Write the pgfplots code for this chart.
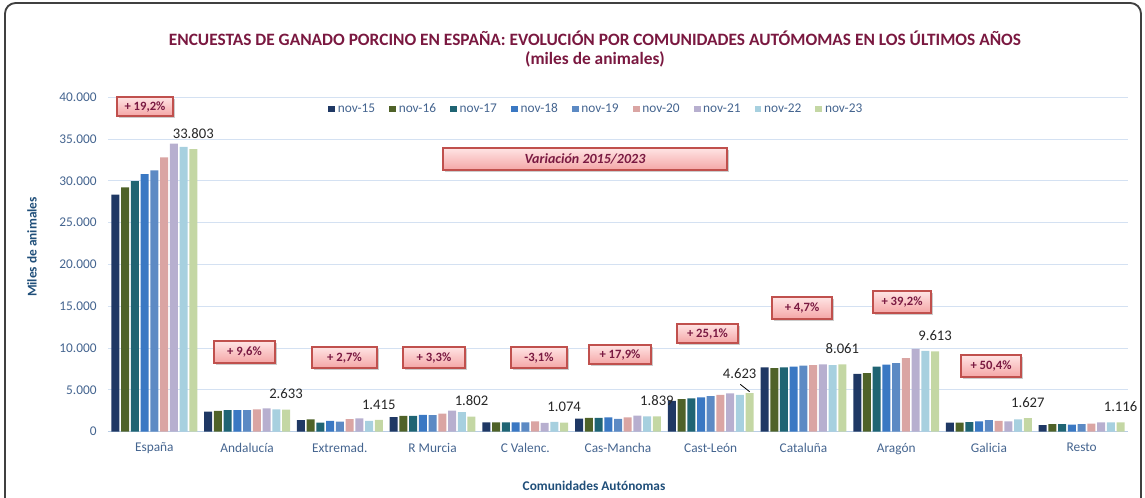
\documentclass[border=0pt]{standalone}
\usepackage{pgfplots}
\pgfplotsset{compat=1.18}
\usepackage{pgfplotstable}
\usepackage{fontspec}
\setmainfont{Carlito}
\usetikzlibrary{shadows}

\definecolor{c15}{HTML}{1F3864}
\definecolor{c16}{HTML}{4F6228}
\definecolor{c17}{HTML}{1F6473}
\definecolor{c18}{HTML}{3A78C3}
\definecolor{c19}{HTML}{5C8AC4}
\definecolor{c20}{HTML}{DAA5A3}
\definecolor{c21}{HTML}{B7AFCF}
\definecolor{c22}{HTML}{A7D0DF}
\definecolor{c23}{HTML}{C4D7A4}
\definecolor{titlecol}{RGB}{122,24,64}
\definecolor{axtitle}{HTML}{1F4E79}
\definecolor{tickcol}{HTML}{44648F}
\definecolor{gridcol}{HTML}{D4E1F2}
\definecolor{basecol}{HTML}{B9CDE5}
\definecolor{boxborder}{HTML}{C0504D}
\definecolor{boxtop}{HTML}{FFE4E4}
\definecolor{boxbot}{HTML}{F4A6A6}
\definecolor{boxtext}{HTML}{7A1A42}

\pgfplotstableread{
x n15 n16 n17 n18 n19 n20 n21 n22 n23 lx ly
0 28358 29230 29970 30800 31250 32800 34450 34070 33803 0 4.5
1 2402 2500 2580 2580 2580 2660 2780 2680 2633 0 4.5
2 1380 1460 1100 1300 1220 1500 1580 1300 1415 0 4.5
3 1744 1900 1900 2010 1980 2170 2530 2330 1802 0 4.5
4 1110 1110 1110 1110 1110 1230 1060 1190 1074 0 4.5
5 1560 1640 1640 1710 1530 1710 1910 1830 1839 0 4.5
6 3695 3900 3980 4100 4260 4420 4580 4420 4623 -7.5 7.5
7 7699 7610 7690 7770 7890 7970 8050 7970 8061 0 4.5
8 6906 7010 7770 8010 8210 8800 9920 9680 9613 0 4.5
9 1082 1080 1150 1230 1400 1300 1230 1480 1627 0 4.5
10 800 920 920 840 920 960 1110 1110 1116 0 4.5
}\datatable

\tikzset{pbox/.style={draw=boxborder, line width=0.8pt, top color=boxtop, bottom color=boxbot,
  drop shadow={shadow xshift=1.2pt, shadow yshift=-1.2pt, fill=black!40, opacity=0.5},
  text=boxtext, font=\fontsize{9.5}{11}\selectfont\bfseries, inner sep=0pt, anchor=center}}
\newcommand{\pbox}[5]{\node[pbox, minimum width=#3*0.75pt, minimum height=#4*0.75pt] at (#1,#2) {#5};}

\begin{document}
\begin{tikzpicture}
\useasboundingbox (-81pt,-48.975pt) rectangle (777.75pt,323.775pt);
\begin{scope}
\clip (-81pt,-48.975pt) rectangle (777.75pt,323.775pt);
\begin{axis}[
  at={(0,0)}, anchor=south west,
  scale only axis, width=765pt, height=250.8pt,
  ybar=1.3pt, bar width=6pt,
  xmin=-0.5, xmax=10.5, ymin=0, ymax=40000,
  xtick=data,
  xticklabels={España, Andalucía, Extremad., R Murcia, C Valenc., Cas-Mancha, Cast-León, Cataluña, Aragón, Galicia, Resto},
  ytick={0,5000,...,40000},
  scaled y ticks=false,
  /pgf/number format/1000 sep={.},
  /pgf/number format/assume math mode=true,
  major tick length=0pt,
  ymajorgrids, grid style={draw=gridcol, line width=0.75pt},
  axis x line*=bottom, axis y line*=left,
  x axis line style={draw=basecol, line width=1pt, -},
  y axis line style={draw=none},
  ticklabel style={font=\fontsize{10}{12}\selectfont, text=tickcol},
  xticklabel style={yshift=-5pt},
  yticklabel style={xshift=-5pt},
  legend columns=9,
  legend style={draw=none, fill=none, at={(0.2157,0.965)}, anchor=west, inner sep=0pt,
    font=\fontsize{10}{12}\selectfont, text=tickcol,
    /tikz/every even column/.append style={column sep=8.5pt}},
  legend image code/.code={\fill[#1] (0pt,-2.6pt) rectangle (5.2pt,2.6pt);},
  clip=false,
]
\addplot[fill=c15, draw=none] table[x=x,y=n15]{\datatable};
\addplot[fill=c16, draw=none] table[x=x,y=n16]{\datatable};
\addplot[fill=c17, draw=none] table[x=x,y=n17]{\datatable};
\addplot[fill=c18, draw=none] table[x=x,y=n18]{\datatable};
\addplot[fill=c19, draw=none] table[x=x,y=n19]{\datatable};
\addplot[fill=c20, draw=none] table[x=x,y=n20]{\datatable};
\addplot[fill=c21, draw=none] table[x=x,y=n21]{\datatable};
\addplot[fill=c22, draw=none] table[x=x,y=n22]{\datatable};
\addplot[fill=c23, draw=none, nodes near coords, point meta=y,
  visualization depends on={\thisrow{lx} \as \lx},
  visualization depends on={\thisrow{ly} \as \ly},
  every node near coord/.append style={font=\fontsize{11}{13}\selectfont, text=black!85, xshift=\lx pt, yshift=\ly pt}
] table[x=x,y=n23]{\datatable};
\legend{nov-15,nov-16,nov-17,nov-18,nov-19,nov-20,nov-21,nov-22,nov-23}
\draw[black, line width=0.6pt] ([xshift=29.2pt, yshift=1pt]axis cs:6,4623) -- ++(-7pt,5.5pt);
\end{axis}
\begin{scope}[x=0.75pt,y=0.75pt]
\draw[black!75, line width=1.4pt, rounded corners=8pt] (-103,-80) rectangle (1033,428.7);
\node[font=\fontsize{13}{15}\selectfont\bfseries, text=titlecol] at (487,393.7) {ENCUESTAS DE GANADO PORCINO EN ESPAÑA: EVOLUCIÓN POR COMUNIDADES AUTÓMOMAS EN LOS ÚLTIMOS AÑOS};
\node[font=\fontsize{13}{15}\selectfont\bfseries, text=titlecol] at (487,372.7) {(miles de animales)};
\node[font=\fontsize{10}{12}\selectfont\bfseries, text=axtitle, rotate=90] at (-76,184.7) {Miles de animales};
\node[font=\fontsize{10}{12}\selectfont\bfseries, text=axtitle] at (486,-54) {Comunidades Autónomas};
\pbox{37}{325.2}{56}{19}{+ 19,2\%}
\node[pbox, minimum width=284*0.75pt, minimum height=22*0.75pt, font=\fontsize{10.5}{12}\selectfont\bfseries\itshape] at (477,272.7) {Variación 2015/2023};
\pbox{136.5}{79.7}{61}{22}{+ 9,6\%}
\pbox{236.5}{74.2}{65}{21}{+ 2,7\%}
\pbox{326}{74.2}{62}{21}{+ 3,3\%}
\pbox{431}{74.2}{56}{21}{-3,1\%}
\pbox{512}{77.2}{62}{19}{+ 17,9\%}
\pbox{599.5}{98.2}{61}{19}{+ 25,1\%}
\pbox{694}{123.7}{60}{22}{+ 4,7\%}
\pbox{794}{129.7}{58}{22}{+ 39,2\%}
\pbox{883}{65.7}{60}{22}{+ 50,4\%}
\end{scope}
\end{scope}
\end{tikzpicture}
\end{document}
